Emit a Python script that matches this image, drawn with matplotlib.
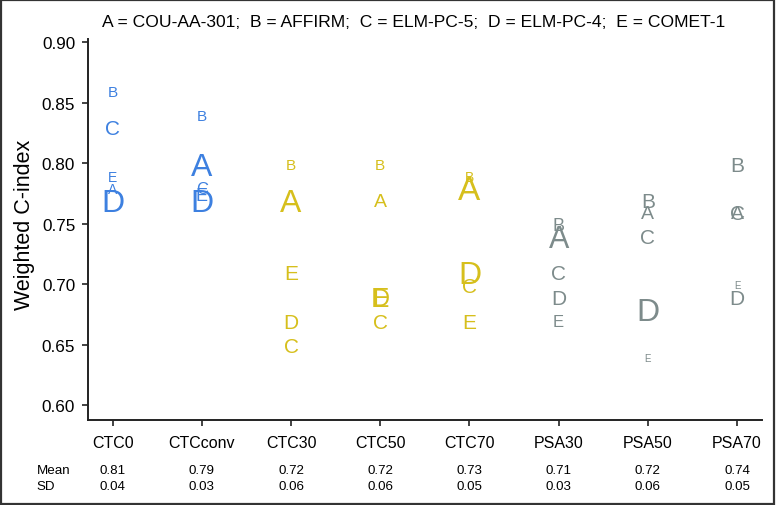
import numpy as np
import matplotlib
matplotlib.use("Agg")
import matplotlib.pyplot as plt
from matplotlib.patches import Rectangle

plt.rcParams["font.family"] = ["Liberation Sans", "DejaVu Sans"]

# Datos
markers = ["CTC0", "CTCconv", "CTC30", "CTC50", "CTC70", "PSA30", "PSA50", "PSA70"]
studies = ["A", "B", "C", "D", "E"]
cindex = {
    "A": [0.78, 0.80, 0.77, 0.77, 0.78, 0.74, 0.76, 0.76],
    "B": [0.86, 0.84, 0.80, 0.80, 0.79, 0.75, 0.77, 0.80],
    "C": [0.83, 0.78, 0.65, 0.67, 0.70, 0.71, 0.74, 0.76],
    "D": [0.77, 0.77, 0.67, 0.69, 0.71, 0.69, 0.68, 0.69],
    "E": [0.79, 0.775, 0.71, 0.69, 0.67, 0.67, 0.64, 0.70],
}
# tamaño de letra ~ peso del estudio
weights = {
    "A": [10, 23, 23, 14, 24, 22, 14, 14],
    "B": [11, 11, 11, 11, 10, 13, 15, 15],
    "C": [15, 12, 15, 15, 15, 15, 15, 15],
    "D": [23, 23, 15, 17, 23, 15, 23, 15],
    "E": [10, 13, 15, 20, 15, 12, 7, 7],
}
means = ["0.81", "0.79", "0.72", "0.72", "0.73", "0.71", "0.72", "0.74"]
sds = ["0.04", "0.03", "0.06", "0.06", "0.05", "0.03", "0.06", "0.05"]
title = "A = COU-AA-301;  B = AFFIRM;  C = ELM-PC-5;  D = ELM-PC-4;  E = COMET-1"

blue, gold, gray = "#3d80e0", "#d6bf1c", "#7d8b8b"
col_colors = [blue, blue, gold, gold, gold, gray, gray, gray]

W, H = 776, 506
fig = plt.figure(figsize=(W / 100, H / 100), dpi=100)
ax = fig.add_axes([87.7 / W, 1 - 420.7 / H, (762 - 87.7) / W, (420.7 - 40) / H])

x = np.arange(len(markers))
for s in studies:
    for i in x:
        ax.text(i, cindex[s][i], s, ha="center", va="center_baseline",
                fontsize=weights[s][i], color=col_colors[i])

# Settings
ax.set_xlim(-0.28, 7.28)
ax.set_ylim(0.5879, 0.9025)
ax.set_xticks(x)
ax.set_xticklabels(markers)
yt = np.arange(0.60, 0.901, 0.05)
ax.set_yticks(yt)
ax.set_yticklabels([f"{v:.2f}" for v in yt])
ax.tick_params(labelsize=11.5, length=4, width=1.2, color="#222222")
ax.tick_params(axis="y", labelsize=12.3, pad=5)
ax.tick_params(axis="x", pad=7)
for side in ["top", "right"]:
    ax.spines[side].set_visible(False)
for side in ["left", "bottom"]:
    ax.spines[side].set_linewidth(1.4)
    ax.spines[side].set_color("#222222")

fig.text(25 / W, 1 - 225 / H, "Weighted C-index", rotation=90,
         ha="center", va="center", fontsize=15.5)
fig.text(414 / W, 1 - 22.7 / H, title, ha="center", va="center", fontsize=12.6)

# Tabla Mean / SD
trans = ax.get_xaxis_transform()
fig.text(36.7 / W, 1 - 470.7 / H, "Mean", ha="left", va="center", fontsize=9.6)
fig.text(36.7 / W, 1 - 486.7 / H, "SD", ha="left", va="center", fontsize=9.6)
for i in x:
    ax.text(i, -(470.7 - 420.7) / 380.7, means[i], transform=trans,
            ha="center", va="center", fontsize=9.6)
    ax.text(i, -(486.7 - 420.7) / 380.7, sds[i], transform=trans,
            ha="center", va="center", fontsize=9.6)

# Marco de la figura
fig.patches.append(Rectangle((0.001, 0.002), 0.997, 0.996, transform=fig.transFigure,
                             fill=False, edgecolor="#333333", linewidth=1.6))

fig.savefig("out.png", dpi=100)
